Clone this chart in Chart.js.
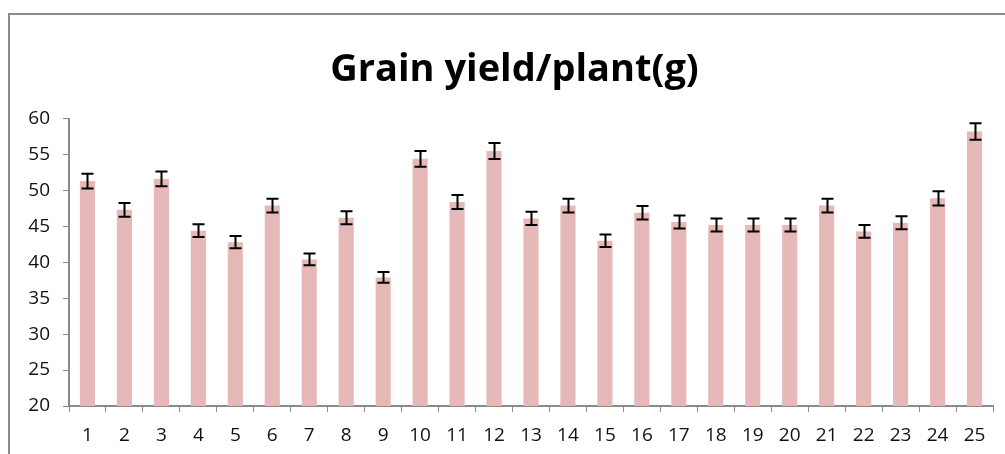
<!DOCTYPE html>
<html>
<head>
<meta charset="utf-8">
<script src="https://cdn.jsdelivr.net/npm/chart.js@4.4.0/dist/chart.umd.min.js"></script>
<style>
  html, body { margin: 0; padding: 0; background: #fff; }
  #wrap { position: relative; width: 1005px; height: 454px; overflow: hidden; }
  #frame {
    position: absolute; left: 8px; top: 13px; width: 1100px; height: 500px;
    border-left: 2px solid #8a8a8a; border-top: 2px solid #8a8a8a;
  }
  #chart { position: absolute; left: 0; top: 0; }
</style>
</head>
<body>
<div id="wrap">
  <div id="frame"></div>
  <canvas id="chart" width="1005" height="454"></canvas>
</div>
<script>
const genotypes = ['1', '2', '3', '4', '5', '6', '7', '8', '9', '10', '11', '12', '13',
  '14', '15', '16', '17', '18', '19', '20', '21', '22', '23', '24', '25'];
const grainYield = [51.3, 47.3, 51.6, 44.4, 42.8, 47.9, 40.4, 46.2, 37.9, 54.4, 48.4, 55.5, 46.1,
  47.9, 43.0, 46.9, 45.6, 45.2, 45.2, 45.2, 47.9, 44.3, 45.5, 48.9, 58.2];
const yieldError = [1.03, 0.95, 1.03, 0.89, 0.86, 0.96, 0.81, 0.92, 0.76, 1.09, 0.97, 1.11, 0.92,
  0.96, 0.86, 0.94, 0.91, 0.90, 0.90, 0.90, 0.96, 0.89, 0.91, 0.98, 1.16];
const yTicks = [20, 25, 30, 35, 40, 45, 50, 55, 60];

const axisGray = '#8a8a8a';
const labelFont = { family: "'Open Sans', sans-serif", size: 19 };

// draws the black I-shaped error bars on top of each bar
const errorBars = {
  id: 'errorBars',
  afterDatasetsDraw(chart) {
    const c = chart.ctx;
    const meta = chart.getDatasetMeta(0);
    const y = chart.scales.y;
    c.save();
    c.strokeStyle = '#000';
    c.lineWidth = 2;
    meta.data.forEach((bar, i) => {
      const hi = y.getPixelForValue(grainYield[i] + yieldError[i]);
      const lo = y.getPixelForValue(grainYield[i] - yieldError[i]);
      const x = Math.round(bar.x) + 0.5;
      c.beginPath();
      c.moveTo(x, hi); c.lineTo(x, lo);
      c.moveTo(x - 6, hi); c.lineTo(x + 6, hi);
      c.moveTo(x - 6, lo); c.lineTo(x + 6, lo);
      c.stroke();
    });
    c.restore();
  }
};

new Chart(document.getElementById('chart'), {
  type: 'bar',
  data: {
    labels: genotypes,
    datasets: [{
      label: 'Grain yield/plant(g)',
      data: grainYield,
      backgroundColor: '#e6b9b8',
      borderWidth: 0,
      barPercentage: 0.41,
      categoryPercentage: 1.0
    }]
  },
  options: {
    responsive: false,
    animation: false,
    layout: { padding: { left: 24, right: 0, top: 0, bottom: 0 } },
    plugins: {
      legend: { display: false },
      tooltip: { enabled: false },
      title: {
        display: true,
        text: 'Grain yield/plant(g)',
        color: '#000',
        font: { family: "'Open Sans', sans-serif", size: 38, weight: 'bold' },
        padding: { top: 47, bottom: 26 }
      }
    },
    scales: {
      x: {
        offset: true,
        grid: {
          display: true, drawOnChartArea: false, offset: true,
          color: axisGray, tickLength: 6, tickColor: axisGray
        },
        border: { color: axisGray, width: 2 },
        ticks: { color: '#111', font: labelFont, padding: 12, maxRotation: 0, autoSkip: false },
        afterFit(axis) { axis.height = 48; }
      },
      y: {
        min: 20,
        max: 60,
        afterBuildTicks(axis) { axis.ticks = yTicks.map(v => ({ value: v })); },
        grid: {
          display: true, drawOnChartArea: false,
          color: axisGray, tickLength: 6, tickColor: axisGray
        },
        border: { color: axisGray, width: 2 },
        ticks: { color: '#111', font: labelFont, padding: 13 },
        afterFit(axis) { axis.width = 45; }
      },
      // empty spacer on the right so the plot ends where the reference does
      yRight: {
        position: 'right',
        min: 20,
        max: 60,
        grid: { display: false },
        border: { display: false },
        ticks: { display: false },
        afterFit(axis) { axis.width = 12; }
      }
    }
  },
  plugins: [errorBars]
});
</script>
</body>
</html>
